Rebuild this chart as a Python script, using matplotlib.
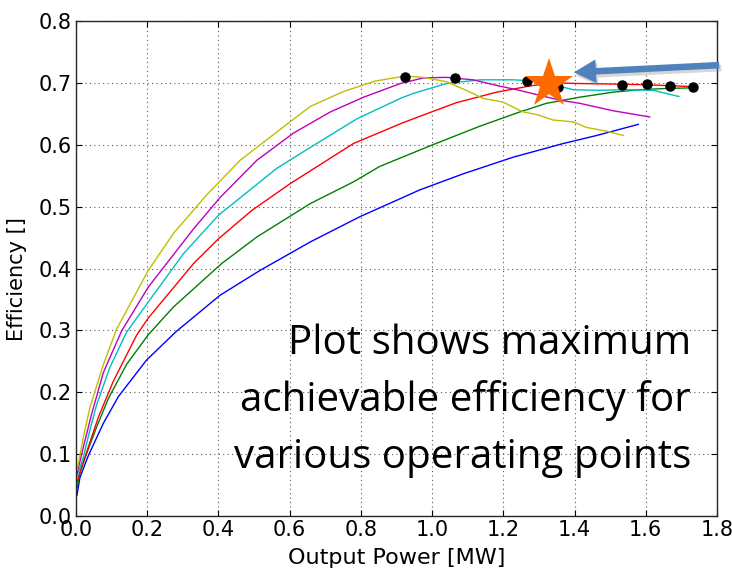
import matplotlib
matplotlib.use("Agg")
import matplotlib.pyplot as plt
from matplotlib.patches import FancyArrowPatch
import numpy as np

# efficiency curves, one per operating setting
blue_x = [0.003, 0.011, 0.035, 0.077, 0.119, 0.198, 0.283, 0.405, 0.517, 0.658, 0.798, 0.911, 0.965, 1.087, 1.228, 1.368, 1.462, 1.579]
blue_y = [0.034, 0.062, 0.098, 0.150, 0.193, 0.252, 0.299, 0.357, 0.397, 0.443, 0.484, 0.513, 0.527, 0.553, 0.580, 0.602, 0.615, 0.633]

green_x = [0.003, 0.011, 0.030, 0.058, 0.091, 0.142, 0.203, 0.274, 0.409, 0.508, 0.658, 0.779, 0.853, 0.993, 1.134, 1.246, 1.321, 1.415, 1.508, 1.583, 1.658, 1.724]
green_y = [0.045, 0.069, 0.101, 0.144, 0.190, 0.245, 0.293, 0.338, 0.408, 0.451, 0.505, 0.540, 0.565, 0.598, 0.630, 0.653, 0.667, 0.677, 0.685, 0.689, 0.691, 0.692]

red_x = [0.003, 0.016, 0.035, 0.063, 0.105, 0.170, 0.203, 0.330, 0.400, 0.494, 0.601, 0.779, 0.911, 0.947, 1.068, 1.181, 1.274, 1.340, 1.415, 1.527, 1.602, 1.733]
red_y = [0.055, 0.080, 0.112, 0.160, 0.218, 0.292, 0.320, 0.408, 0.448, 0.494, 0.537, 0.602, 0.634, 0.642, 0.668, 0.685, 0.695, 0.700, 0.699, 0.698, 0.697, 0.694]

cyan_x = [0.003, 0.021, 0.039, 0.058, 0.095, 0.142, 0.203, 0.302, 0.400, 0.564, 0.639, 0.789, 0.911, 0.947, 1.040, 1.134, 1.228, 1.293, 1.349, 1.396, 1.462, 1.546, 1.621, 1.693]
cyan_y = [0.064, 0.096, 0.139, 0.180, 0.240, 0.297, 0.346, 0.424, 0.486, 0.562, 0.589, 0.642, 0.675, 0.683, 0.699, 0.705, 0.705, 0.703, 0.696, 0.689, 0.688, 0.689, 0.688, 0.678]

magenta_x = [0.003, 0.021, 0.044, 0.077, 0.128, 0.203, 0.330, 0.405, 0.508, 0.611, 0.714, 0.808, 0.911, 0.975, 1.040, 1.115, 1.181, 1.237, 1.302, 1.359, 1.415, 1.508, 1.611]
magenta_y = [0.069, 0.112, 0.165, 0.232, 0.299, 0.370, 0.464, 0.515, 0.575, 0.619, 0.653, 0.677, 0.699, 0.708, 0.709, 0.705, 0.696, 0.689, 0.680, 0.672, 0.667, 0.655, 0.645]

yellow_x = [0.003, 0.021, 0.039, 0.077, 0.114, 0.203, 0.274, 0.367, 0.461, 0.601, 0.658, 0.751, 0.840, 0.923, 0.975, 1.040, 1.096, 1.143, 1.199, 1.256, 1.293, 1.340, 1.396, 1.434, 1.490, 1.537]
yellow_y = [0.074, 0.128, 0.175, 0.245, 0.302, 0.397, 0.457, 0.519, 0.575, 0.637, 0.662, 0.686, 0.703, 0.711, 0.709, 0.702, 0.688, 0.675, 0.669, 0.653, 0.649, 0.640, 0.637, 0.628, 0.622, 0.615]

# maximum efficiency points
dots_x = [0.924, 1.064, 1.266, 1.354, 1.534, 1.603, 1.668, 1.734]
dots_y = [0.710, 0.708, 0.703, 0.694, 0.697, 0.698, 0.695, 0.693]

star_x = [1.327]
star_y = [0.698]

note_lines = ["Plot shows maximum", "achievable efficiency for", "various operating points"]

curves = [
    (blue_x, blue_y, (0, 0, 1)),
    (green_x, green_y, (0, 0.5, 0)),
    (red_x, red_y, (1, 0, 0)),
    (cyan_x, cyan_y, (0, 0.75, 0.75)),
    (magenta_x, magenta_y, (0.75, 0, 0.75)),
    (yellow_x, yellow_y, (0.75, 0.75, 0)),
]

plt.rcParams['font.family'] = 'DejaVu Sans'

fig = plt.figure(figsize=(7.32, 5.70), dpi=100)
ax = fig.add_axes([0.1038, 0.0947, 0.8757, 0.8684])

for cx, cy, col in curves:
    ax.plot(cx, cy, color=col, linewidth=1.0)

ax.plot(dots_x, dots_y, 'o', color='k', markersize=6.5, zorder=4)
ax.plot(star_x, star_y, marker='*', color='#FF6A00', markersize=37, markeredgewidth=0, linestyle='none', zorder=5)

ax.set_xlim(0, 1.8)
ax.set_ylim(0, 0.8)
ax.grid(True, color='0.35', linestyle=(0, (1, 3)), linewidth=0.8)
ax.tick_params(direction='in', top=True, right=True, labelsize=15, pad=3, length=4)
ax.set_xlabel('Output Power [MW]', fontsize=16)
ax.set_ylabel('Efficiency []', fontsize=15)
ax.xaxis.set_label_coords(0.5, -0.064)
ax.yaxis.set_label_coords(-0.077, 0.479)
for sp in ax.spines.values():
    sp.set_linewidth(1.0)
    sp.set_color('0.15')

# annotation text, right aligned inside the axes
for i, line in enumerate(note_lines):
    fig.text(691 / 732, (570 - 354 - 57 * i) / 570, line, ha='right', va='baseline',
             fontsize=29, family='Open Sans', color='k')

# blue callout arrow with soft shadow
tail = (722, 570 - 65)
tip = (571, 570 - 72.5)
style = "simple,head_length=16,head_width=17,tail_width=4.7"
shadow = FancyArrowPatch((tail[0] + 2, tail[1] - 3), (tip[0] + 2, tip[1] - 3), transform=None,
                         arrowstyle=style, color='0.55', alpha=0.35, linewidth=0)
arrow = FancyArrowPatch(tail, tip, transform=None, arrowstyle=style, color='#4F81BD', linewidth=0)
fig.patches.append(shadow)
fig.patches.append(arrow)

fig.savefig('out.png', dpi=100)
